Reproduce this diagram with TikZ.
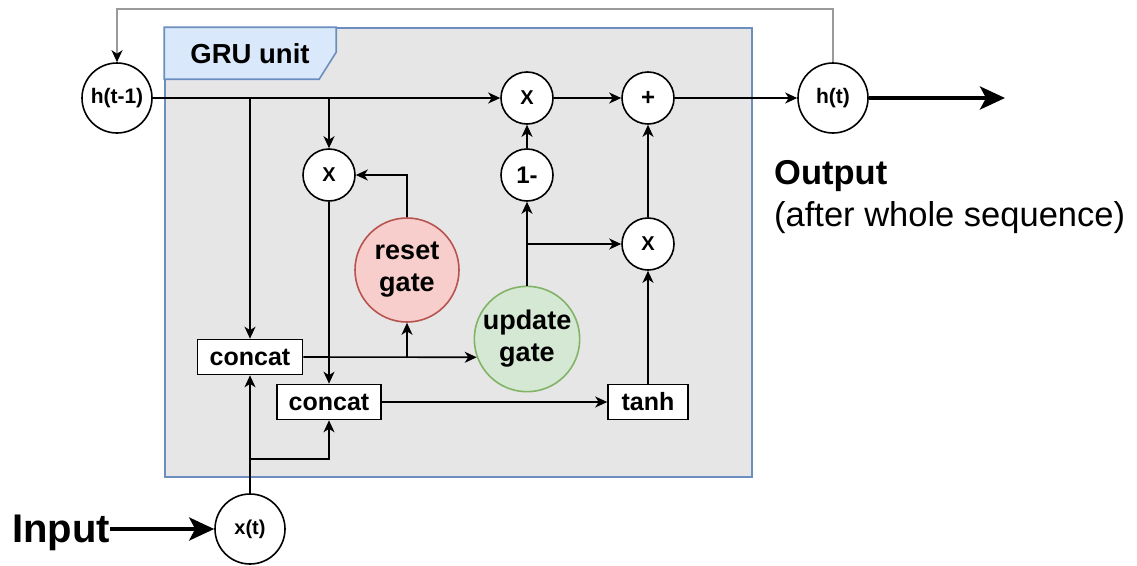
\documentclass[tikz,border=0pt]{standalone}
\usepackage{fontspec}
\setmainfont{Liberation Sans}
\usetikzlibrary{arrows.meta}

\definecolor{boxfill}{HTML}{E6E6E6}
\definecolor{boxline}{HTML}{6C8EBF}
\definecolor{tabfill}{HTML}{DAE8FC}
\definecolor{resetfill}{HTML}{F8CECC}
\definecolor{resetline}{HTML}{B85450}
\definecolor{updfill}{HTML}{D5E8D4}
\definecolor{updline}{HTML}{82B366}
\definecolor{loopline}{HTML}{9A9A9A}

\tikzset{
  wire/.style={draw=black, line width=1.6pt,
    -{Stealth[length=12pt,width=11pt,inset=3.5pt]}},
  loopwire/.style={draw=loopline, line width=1.6pt,
    -{Stealth[length=12pt,width=11pt,inset=3.5pt,color=black]}},
  bigarrow/.style={draw=black, line width=4pt,
    -{Stealth[length=25pt,width=23pt,inset=6pt]}},
  opnode/.style={circle, draw, fill=white, line width=1.6pt,
    minimum size=52pt, inner sep=0pt,
    font=\fontsize{20}{24}\selectfont\bfseries},
  bigop/.style={opnode, font=\fontsize{24}{28}\selectfont\bfseries},
  statenode/.style={opnode, minimum size=70pt},
  gatenode/.style={circle, line width=1.6pt, minimum size=104pt,
    inner sep=0pt, align=center,
    font=\fontsize{27}{32}\selectfont\bfseries},
  blk/.style={rectangle, draw, fill=white, line width=1.6pt,
    minimum height=35pt, inner sep=0pt,
    font=\fontsize{25}{28}\selectfont\bfseries},
  lbl/.style={inner sep=0pt}
}

\begin{document}
\begin{tikzpicture}[x=1pt, y=-1pt]
\useasboundingbox (0,0) rectangle (1137,565);

% container of the GRU cell with its title tab
\node[draw=boxline, fill=boxfill, line width=1.6pt, rectangle,
      minimum width=587pt, minimum height=449pt, inner sep=0pt]
      (gru) at (458.5,252.5) {};
\draw[draw=boxline, fill=tabfill, line width=1.6pt]
  (gru.north west) -- ++(172,0) -- ++(0,25) -- ++(-17,27)
  -- ++(-155,0) -- cycle;
\node[lbl, font=\fontsize{27.5}{30}\selectfont\bfseries] (title) at (250,54) {GRU unit};

% states
\node[statenode, font=\fontsize{21}{24}\selectfont\bfseries] (hprev) at (117,98) {h(t-1)};
\node[statenode, font=\fontsize{21}{24}\selectfont\bfseries] (hcur) at (833,98) {h(t)};
\node[statenode, font=\fontsize{20}{24}\selectfont\bfseries] (xin) at (250,529) {x(t)};

% pointwise operations
\node[opnode] (mulr) at (329,175) {X};
\node[opnode] (mulh) at (527,98) {X};
\node[bigop] (plus) at (648,98) {+};
\node[bigop] (minus) at (527,175) {1-};
\node[opnode] (mulz) at (648,244) {X};

% gates
\node[gatenode, draw=resetline, fill=resetfill] (reset) at (407,270) {reset\\gate};
\node[gatenode, draw=updline, fill=updfill] (update) at (527,339) {update\\gate};

% blocks
\node[blk, minimum width=105pt] (cat1) at (250,357) {concat};
\node[blk, minimum width=104pt] (cat2) at (329,402) {concat};
\node[blk, minimum width=80pt] (tanh) at (648,402) {tanh};

% outside labels
\node[lbl, anchor=base east, font=\fontsize{40}{44}\selectfont\bfseries] (inp) at (110,542) {Input};
\node[lbl, anchor=base west, font=\fontsize{34.5}{38}\selectfont\bfseries] (outl) at (774,184) {Output};
\node[lbl, anchor=base west, font=\fontsize{34.5}{38}\selectfont] (outs) at (774,226) {(after whole sequence)};
\coordinate (outend) at (1005,98);
\coordinate (xsplit) at (250,459);

% previous state distribution
\draw[wire] (hprev.east) -- (mulh.west);
\draw[wire] (cat1.north |- hprev.east) -- (cat1.north);
\draw[wire] (mulr.north |- hprev.east) -- (mulr.north);

% reset path
\draw[wire] (reset.north) |- (mulr.east);
\draw[wire] (mulr.south) -- (cat2.north);
\draw[wire] (cat1.east) -- (update.200);
\draw[wire] (reset.south |- cat1.east) -- (reset.south);

% update path
\draw[wire] (update.north) -- (minus.south);
\draw[wire] (update.north |- mulz.west) -- (mulz.west);
\draw[wire] (minus.north) -- (mulh.south);
\draw[wire] (mulh.east) -- (plus.west);
\draw[wire] (mulz.north) -- (plus.south);
\draw[wire] (tanh.north) -- (mulz.south);
\draw[wire] (cat2.east) -- (tanh.west);
\draw[wire] (plus.east) -- (hcur.west);

% input distribution
\draw[wire] (xin.north) -- (cat1.south);
\draw[wire] (xsplit) -| (cat2.south);

% external arrows
\draw[bigarrow] (inp.east |- xin.west) -- (xin.west);
\draw[bigarrow] (hcur.east) -- (outend);

% recurrent feedback
\draw[loopwire] (hcur.north) -- ++(0,-53) -| (hprev.north);
\end{tikzpicture}
\end{document}
